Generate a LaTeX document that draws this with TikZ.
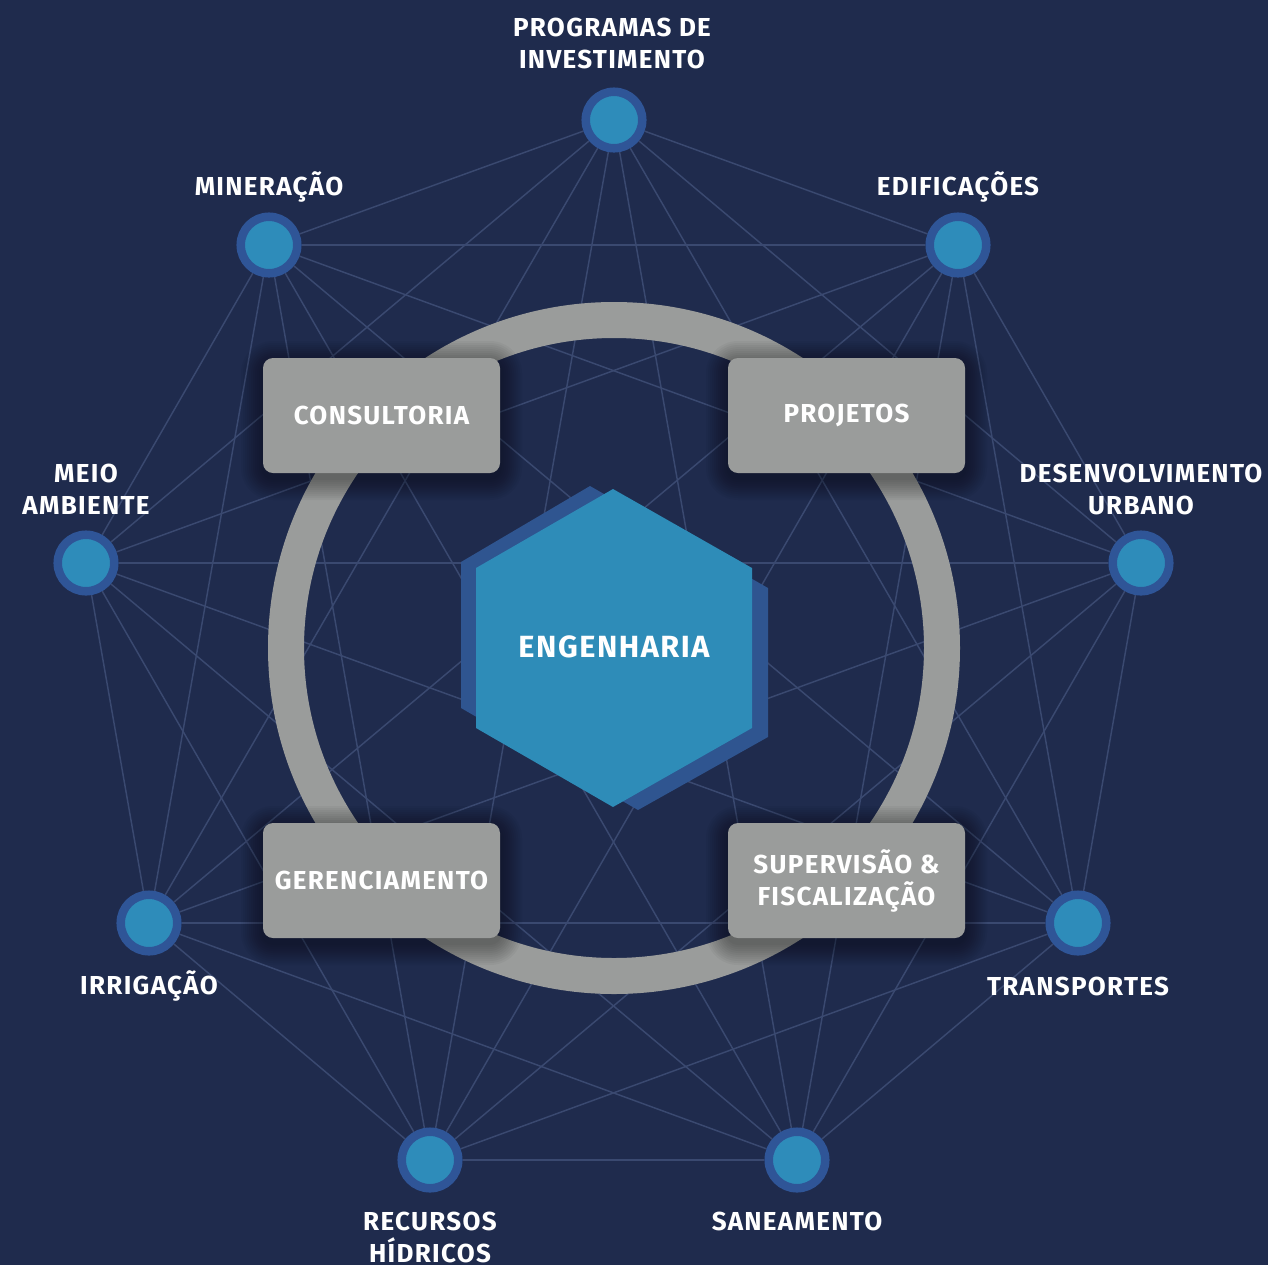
\documentclass[tikz,border=0pt]{standalone}
\usepackage{fontspec}
\setmainfont{Fira Sans}[LetterSpace=5]
\usetikzlibrary{backgrounds}
\definecolor{bgc}{HTML}{1F2B4D}
\definecolor{edgec}{HTML}{3A4970}
\definecolor{ringblue}{HTML}{2F5597}
\definecolor{dotblue}{HTML}{2E8CBA}
\definecolor{greyc}{HTML}{9A9C9B}
\definecolor{hexfront}{HTML}{2E8CB8}
\definecolor{hexback}{HTML}{2F5590}
\tikzset{
  outer/.style={circle, fill=dotblue, draw=ringblue, line width=6.4pt, minimum size=42.4pt, inner sep=0pt},
  edge/.style={draw=edgec, line width=1.1pt},
  lbl/.style={text=white, font=\bfseries\fontsize{19.5}{24}\selectfont, align=center, inner sep=0pt},
  box/.style={fill=greyc, rounded corners=7.5pt, minimum width=177.75pt, minimum height=86.25pt, text=white, font=\bfseries\fontsize{19.5}{24}\selectfont, align=center, inner sep=0pt},
  shad/.style={fill=black, fill opacity=0.035}
}
\begin{document}
\begin{tikzpicture}[x=0.75pt,y=-0.75pt]
\useasboundingbox (0,0) rectangle (1268,1265);
% outer nodes
\node[outer] (n1) at (614,120) {};
\node[outer] (n2) at (958,245) {};
\node[outer] (n3) at (1141,563) {};
\node[outer] (n4) at (1078,923) {};
\node[outer] (n5) at (797,1160) {};
\node[outer] (n6) at (430,1160) {};
\node[outer] (n7) at (149,923) {};
\node[outer] (n8) at (86,563) {};
\node[outer] (n9) at (269,245) {};
\begin{scope}[on background layer]
\fill[bgc] (0,0) rectangle (1268,1265);
\foreach \a in {1,...,9}{
  \foreach \b in {1,...,9}{
    \ifnum\a<\b
      \draw[edge] (n\a) -- (n\b);
    \fi
  }
}
\end{scope}
% ring
\node[circle, draw=greyc, line width=27pt, minimum size=492pt, inner sep=0pt] (ring) at (614,648) {};
% box shadows
\foreach \cx/\cy in {381.5/415.5, 846.5/415.5, 381.5/880.5, 846.5/880.5}{
  \foreach \d in {2,4,...,22}{
    \fill[shad, rounded corners=7.5pt+0.75pt*\d] (\cx-118.5-\d,\cy-57.5-\d+5) rectangle (\cx+118.5+\d,\cy+57.5+\d+5);
  }
}
% boxes
\node[box] (b1) at (381.5,415.5) {CONSULTORIA};
\node[box] (b2) at (846.5,415.5) {PROJETOS};
\node[box] (b3) at (381.5,880.5) {GERENCIAMENTO};
\node[box] (b4) at (846.5,880.5) {SUPERVISÃO \&\\FISCALIZAÇÃO};
% hexagon
\fill[hexback] (590,486) -- (768,588) -- (768,737) -- (638,810) -- (461,708) -- (461,562) -- cycle;
\fill[hexfront] (613,489) -- (752,568) -- (752,728) -- (613,807) -- (476,728) -- (476,568) -- cycle;
\node[text=white, font=\bfseries\fontsize{23}{28}\selectfont, inner sep=0pt] (hex) at (614,647) {ENGENHARIA};
% labels
\node[lbl] (l1) at (612,43) {PROGRAMAS DE\\INVESTIMENTO};
\node[lbl] (l2) at (958,187) {EDIFICAÇÕES};
\node[lbl] (l3) at (1141,489) {DESENVOLVIMENTO\\URBANO};
\node[lbl] (l4) at (1078,986) {TRANSPORTES};
\node[lbl] (l5) at (797,1221) {SANEAMENTO};
\node[lbl] (l6) at (430,1237) {RECURSOS\\HÍDRICOS};
\node[lbl] (l7) at (149,986) {IRRIGAÇÃO};
\node[lbl] (l8) at (86,489) {MEIO\\AMBIENTE};
\node[lbl] (l9) at (269,187) {MINERAÇÃO};
\end{tikzpicture}
\end{document}
